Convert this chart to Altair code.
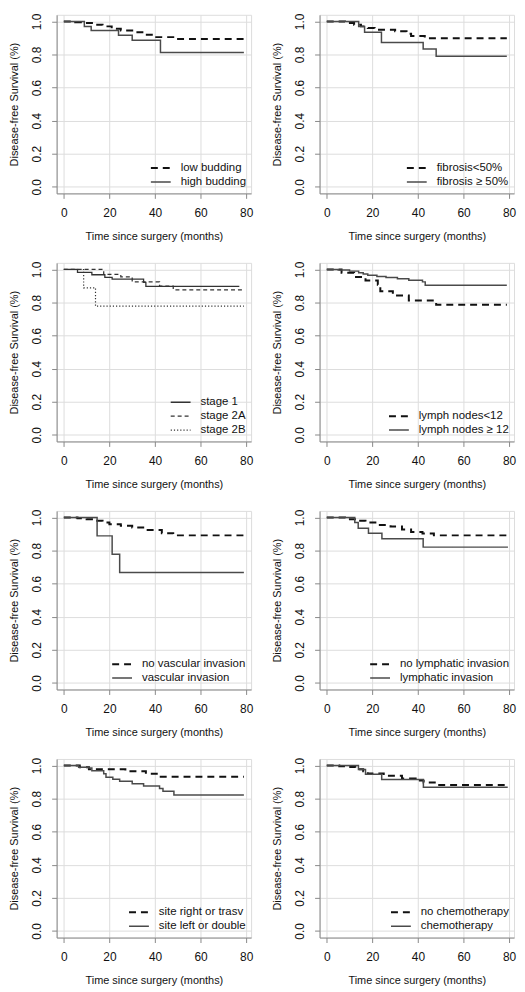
import altair as alt
import pandas as pd

# ---------------- data ----------------
x_ticks = [0, 20, 40, 60, 80]
y_ticks = [0.0, 0.2, 0.4, 0.6, 0.8, 1.0]

# Panel 1: tumour budding
p1_names = ["low budding", "high budding"]
p1_low_t = [0, 5, 9, 13, 17, 21, 25, 30, 35, 40, 48, 79]
p1_low_s = [1.0, 0.995, 0.99, 0.98, 0.97, 0.955, 0.945, 0.935, 0.92, 0.905, 0.893, 0.893]
p1_high_t = [0, 9, 12, 24, 30, 42.4, 79]
p1_high_s = [1.0, 0.97, 0.945, 0.916, 0.886, 0.812, 0.812]

# Panel 2: fibrosis
p2_names = ["fibrosis<50%", "fibrosis \u2265 50%"]
p2_low_t = [0, 8, 12, 15, 18, 21, 30, 35, 37, 43, 79]
p2_low_s = [1.0, 0.99, 0.98, 0.97, 0.96, 0.95, 0.94, 0.925, 0.912, 0.898, 0.898]
p2_high_t = [0, 14, 16.6, 24, 42.3, 48, 79]
p2_high_s = [1.0, 0.97, 0.935, 0.873, 0.833, 0.79, 0.79]

# Panel 3: stage
p3_names = ["stage 1", "stage 2A", "stage 2B"]
p3_s1_t = [0, 6, 12.3, 18, 21.2, 35, 36, 77]
p3_s1_s = [1.0, 0.982, 0.968, 0.952, 0.942, 0.922, 0.898, 0.898]
p3_s2a_t = [0, 17.5, 25, 30, 42, 48, 79]
p3_s2a_s = [1.0, 0.97, 0.955, 0.925, 0.90, 0.877, 0.877]
p3_s2b_t = [0, 8.7, 13.9, 79]
p3_s2b_s = [1.0, 0.889, 0.778, 0.778]

# Panel 4: lymph nodes
p4_names = ["lymph nodes<12", "lymph nodes \u2265 12"]
p4_low_t = [0, 6.5, 12, 17, 22.4, 23.5, 29, 36, 48, 79]
p4_low_s = [1.0, 0.98, 0.955, 0.933, 0.908, 0.868, 0.843, 0.813, 0.787, 0.787]
p4_high_t = [0, 5, 10, 14, 16, 18, 22, 26, 31, 36, 42, 43.2, 79]
p4_high_s = [1.0, 0.997, 0.99, 0.98, 0.973, 0.965, 0.958, 0.952, 0.944, 0.935, 0.925, 0.905, 0.905]

# Panel 5: vascular invasion
p5_names = ["no vascular invasion", "vascular invasion"]
p5_no_t = [0, 6, 10, 14, 17, 20, 25, 30, 36, 43, 48, 79]
p5_no_s = [1.0, 0.995, 0.99, 0.98, 0.97, 0.96, 0.95, 0.94, 0.925, 0.905, 0.892, 0.892]
p5_yes_t = [0, 14.6, 21.2, 24.5, 79]
p5_yes_s = [1.0, 0.889, 0.778, 0.667, 0.667]

# Panel 6: lymphatic invasion
p6_names = ["no lymphatic invasion", "lymphatic invasion"]
p6_no_t = [0, 8, 14, 17, 22, 28, 33, 37, 42, 47, 79]
p6_no_s = [1.0, 0.99, 0.98, 0.97, 0.955, 0.945, 0.928, 0.912, 0.903, 0.892, 0.892]
p6_yes_t = [0, 12.3, 13.8, 18.3, 24.2, 42.3, 79.5]
p6_yes_s = [1.0, 0.97, 0.935, 0.905, 0.872, 0.821, 0.821]

# Panel 7: site
p7_names = ["site right or trasv", "site left or double"]
p7_r_t = [0, 7, 11, 27, 36, 41.5, 79]
p7_r_s = [1.0, 0.99, 0.978, 0.965, 0.95, 0.932, 0.932]
p7_l_t = [0, 6.5, 11, 12.3, 17.5, 18.5, 21.5, 24.5, 30, 35, 42, 43.5, 48.3, 79]
p7_l_s = [1.0, 0.99, 0.985, 0.968, 0.95, 0.93, 0.917, 0.905, 0.89, 0.876, 0.862, 0.845, 0.822, 0.822]

# Panel 8: chemotherapy
p8_names = ["no chemotherapy", "chemotherapy"]
p8_no_t = [0, 5.5, 8.3, 12.5, 16, 18, 25, 33, 39, 42.5, 48, 79]
p8_no_s = [1.0, 0.996, 0.992, 0.978, 0.966, 0.952, 0.938, 0.922, 0.909, 0.897, 0.882, 0.882]
p8_yes_t = [0, 13.9, 17, 24.1, 42.4, 79.4]
p8_yes_s = [1.0, 0.976, 0.948, 0.916, 0.869, 0.869]

# ---------------- styling ----------------
FONT = "Liberation Sans"
W, H = 196, 180
X_DOM = [-3.16, 82.16]
Y_DOM = [-0.04, 1.04]
TXT = "#111111"

DASHED = dict(color="#111111", dash=[7, 5], width=2.0)
SOLID = dict(color="#4a4a4a", dash=[1, 0], width=1.5)
FINE_DASH = dict(color="#333333", dash=[4, 3], width=1.2)
DOTTED = dict(color="#333333", dash=[1.2, 2], width=1.2)


def panel(names, series, styles):
    rows = []
    for name, (ts, ss) in zip(names, series):
        for t, s in zip(ts, ss):
            rows.append({"t": t, "s": s, "g": name})
    df = pd.DataFrame(rows)
    leg = alt.Legend(
        title=None, orient="bottom-right", offset=5, padding=0,
        symbolType="stroke", symbolSize=400, labelFontSize=11.5, labelFont=FONT,
        labelColor=TXT, labelOffset=9, rowPadding=1, clipHeight=13,
        symbolOffset=0,
    )
    xaxis = alt.Axis(values=x_ticks, title="Time since surgery (months)",
                     titleY=43, titleBaseline="middle", labelPadding=9,
                     titleFontWeight="normal", titleFont=FONT, titleFontSize=11,
                     titleColor=TXT, labelFontSize=12, labelFont=FONT, labelColor=TXT)
    yaxis = alt.Axis(values=y_ticks, format=".1f", title="Disease-free Survival (%)",
                     labelAngle=270, labelAlign="center", labelBaseline="bottom",
                     labelPadding=8, titleX=-42, titleY=H / 2, titleAngle=270,
                     titleBaseline="middle", titleAlign="center",
                     titleFontWeight="normal", titleFont=FONT, titleFontSize=11,
                     titleColor=TXT, labelFontSize=12, labelFont=FONT, labelColor=TXT)
    return alt.Chart(df).mark_line(interpolate="step-after").encode(
        x=alt.X("t:Q", scale=alt.Scale(domain=X_DOM, nice=False, zero=False), axis=xaxis),
        y=alt.Y("s:Q", scale=alt.Scale(domain=Y_DOM, nice=False, zero=False), axis=yaxis),
        color=alt.Color("g:N", scale=alt.Scale(domain=names, range=[st["color"] for st in styles]), legend=leg),
        strokeDash=alt.StrokeDash("g:N", scale=alt.Scale(domain=names, range=[st["dash"] for st in styles]), legend=leg),
        strokeWidth=alt.StrokeWidth("g:N", scale=alt.Scale(domain=names, range=[st["width"] for st in styles]), legend=leg),
    ).properties(width=W, height=H)


c1 = panel(p1_names, [(p1_low_t, p1_low_s), (p1_high_t, p1_high_s)], [DASHED, SOLID])
c2 = panel(p2_names, [(p2_low_t, p2_low_s), (p2_high_t, p2_high_s)], [DASHED, SOLID])
c3 = panel(p3_names, [(p3_s1_t, p3_s1_s), (p3_s2a_t, p3_s2a_s), (p3_s2b_t, p3_s2b_s)],
           [dict(SOLID, color="#333333", width=1.3), FINE_DASH, DOTTED])
c4 = panel(p4_names, [(p4_low_t, p4_low_s), (p4_high_t, p4_high_s)], [DASHED, SOLID])
c5 = panel(p5_names, [(p5_no_t, p5_no_s), (p5_yes_t, p5_yes_s)], [DASHED, SOLID])
c6 = panel(p6_names, [(p6_no_t, p6_no_s), (p6_yes_t, p6_yes_s)], [DASHED, SOLID])
c7 = panel(p7_names, [(p7_r_t, p7_r_s), (p7_l_t, p7_l_s)], [DASHED, SOLID])
c8 = panel(p8_names, [(p8_no_t, p8_no_s), (p8_yes_t, p8_yes_s)], [DASHED, SOLID])

RES = dict(color="independent", strokeDash="independent", strokeWidth="independent",
           x="independent", y="independent")


def row(a, b):
    return alt.hconcat(a, b, spacing=17).resolve_scale(**RES).resolve_legend(
        color="independent", strokeDash="independent", strokeWidth="independent")


chart = alt.vconcat(row(c1, c2), row(c3, c4), row(c5, c6), row(c7, c8), spacing=18).resolve_scale(
    **RES).resolve_legend(color="independent", strokeDash="independent", strokeWidth="independent"
).properties(padding=0).configure_view(
    stroke="#333333", strokeWidth=1
).configure_axis(
    domain=False, grid=False, tickColor="#333333", tickSize=7, tickWidth=1,
    labelFont=FONT, labelFontSize=12, labelColor=TXT,
    titleFont=FONT, titleFontSize=11, titleFontWeight="normal", titleColor=TXT,
).configure(background="white")

chart.save("out.html", embed_options={"renderer": "svg", "actions": False})
